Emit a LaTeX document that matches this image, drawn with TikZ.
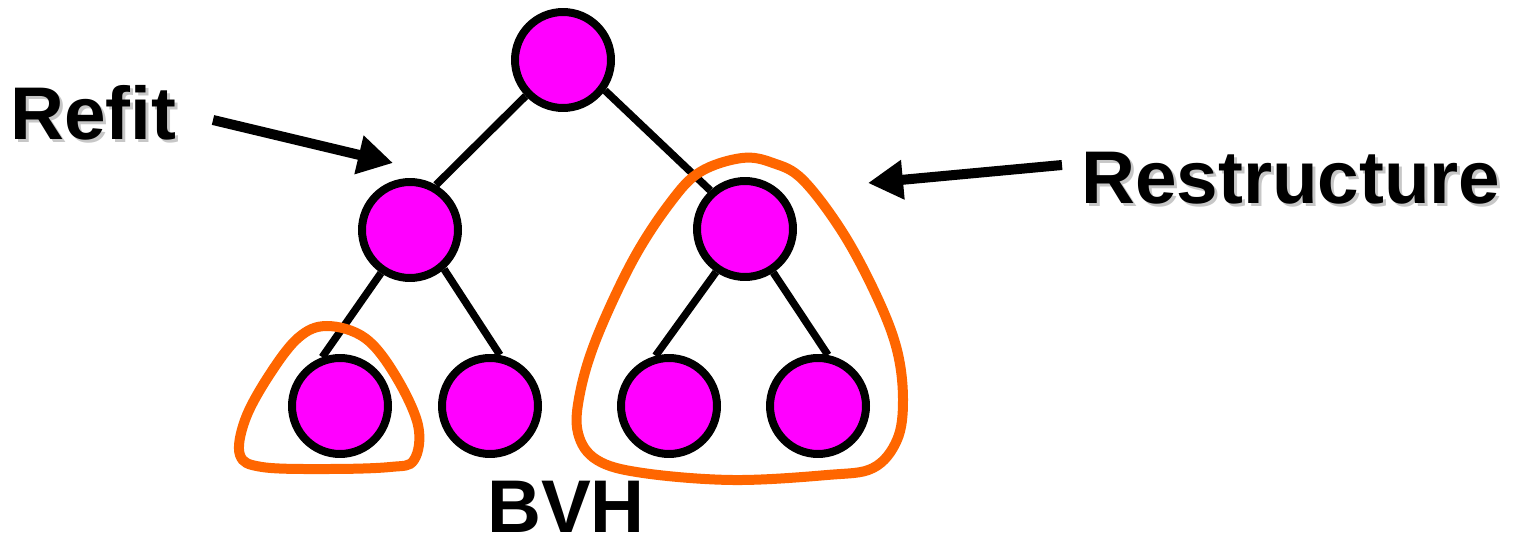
\documentclass[tikz,border=0pt]{standalone}
\usepackage{fontspec}
\setmainfont{Liberation Sans}
\usetikzlibrary{arrows.meta}
\definecolor{bvhmag}{RGB}{255,0,255}
\definecolor{bvhorange}{RGB}{255,102,0}
\begin{document}
\begin{tikzpicture}[x=0.02cm,y=-0.02cm,
  bvnode/.style={circle,draw=black,fill=bvhmag,line width=0.16cm,minimum size=1.92cm,inner sep=0},
  link/.style={line width=0.15cm},
  grouploop/.style={draw=bvhorange,line width=0.2cm},
  callout/.style={line width=0.2cm,-{Triangle[length=0.7cm,width=0.75cm]}},
  lbl/.style={font=\fontsize{42.5}{42.5}\selectfont\bfseries,inner sep=0},
  shadowlbl/.style={lbl,text=black!22}]
\useasboundingbox (0,0) rectangle (1521,544);
% nodes
\node[bvnode] (root) at (563,60) {};
\node[bvnode] (l) at (410,230) {};
\node[bvnode] (r) at (745,229) {};
\node[bvnode] (ll) at (340,406) {};
\node[bvnode] (lr) at (490,406) {};
\node[bvnode] (rl) at (669,406) {};
\node[bvnode] (rr) at (818,406) {};
% edges
\draw[link] (root.224) -- (l.60);
\draw[link] (root.324) -- (r.132);
\draw[link] (l.236) -- (ll.110);
\draw[link] (l.311) -- (lr.79);
\draw[link] (r.236) -- (rl.105);
\draw[link] (r.303) -- (rr.79);
% orange groups
\draw[grouploop] plot[smooth cycle, tension=0.6] coordinates {
  (327,326) (365,338) (395,375) (418,425) (414,460) (390,467) (327,469)
  (262,467) (240,455) (245,420) (268,377) (298,338)};
\draw[grouploop] plot[smooth cycle, tension=0.6] coordinates {
  (742,158) (700,172) (670,203) (633,260) (597,337) (580,393) (578,433)
  (597,460) (643,473) (733,480) (827,475) (873,468) (897,440) (903,400)
  (897,350) (877,297) (843,233) (803,180) (773,163)};
% arrows
\coordinate (refitstart) at (213,120);
\coordinate (refittip) at (393,163);
\coordinate (reststart) at (1062,165);
\coordinate (resttip) at (868,183);
\draw[callout] (refitstart) -- (refittip);
\draw[callout] (reststart) -- (resttip);
% labels
\node[shadowlbl,anchor=base west] (refitshadow) at (13,142) {Refit};
\node[lbl,anchor=base west] (refit) at (10,139) {Refit};
\node[shadowlbl,anchor=base west] (restshadow) at (1084,206) {Restructure};
\node[lbl,anchor=base west] (rest) at (1081,203) {Restructure};
\node[lbl,anchor=base] (bvh) at (566,532) {BVH};
\end{tikzpicture}
\end{document}
